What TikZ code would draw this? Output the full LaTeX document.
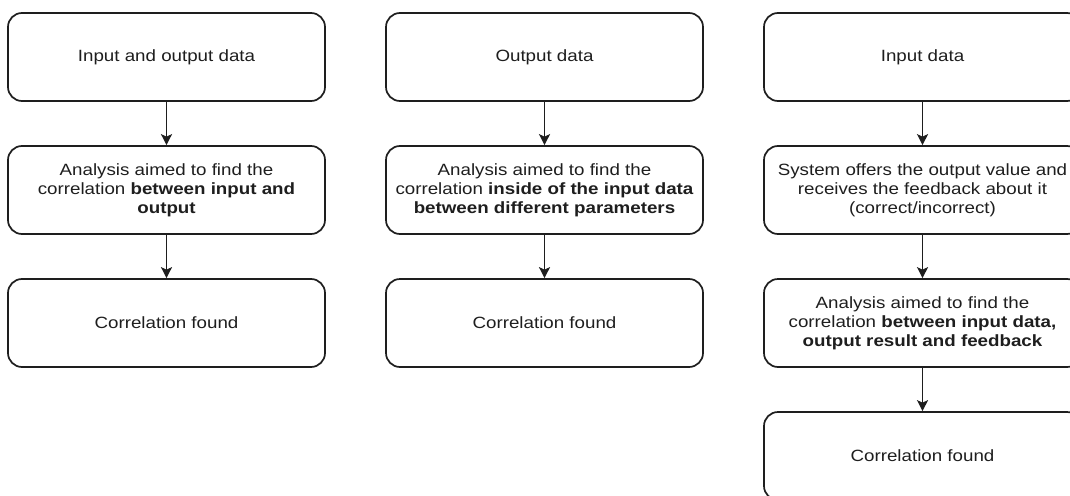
\documentclass[tikz,border=0pt]{standalone}
\usepackage{fontspec}
\setmainfont{Liberation Sans}[FakeStretch=1.15]
\usetikzlibrary{arrows.meta}
\definecolor{ink}{HTML}{1E1E1E}
\tikzset{
  flowbox/.style={draw=ink, line width=1.7pt, rounded corners=14pt,
    minimum width=317pt, minimum height=88pt, align=center,
    text=ink, font=\fontsize{16.3pt}{18.8pt}\selectfont},
  flowarrow/.style={draw=ink, line width=1.7pt,
    -{Stealth[length=11pt,width=11pt,inset=2.5pt]}}
}
\begin{document}
\begin{tikzpicture}[x=1pt,y=-1pt]
  \clip (0,0) rectangle (1070,495);
  \fill[white] (0,0) rectangle (1070,495);

  % supervised learning
  \node[flowbox] (a1) at (166.5,57)  {Input and output data};
  \node[flowbox] (a2) at (166.5,190) {Analysis aimed to find the\\correlation \textbf{between input and}\\\textbf{output}};
  \node[flowbox] (a3) at (166.5,323) {Correlation found};

  % unsupervised learning
  \node[flowbox] (b1) at (544.5,57)  {Output data};
  \node[flowbox] (b2) at (544.5,190) {Analysis aimed to find the\\correlation \textbf{inside of the input data}\\\textbf{between different parameters}};
  \node[flowbox] (b3) at (544.5,323) {Correlation found};

  % reinforcement learning
  \node[flowbox] (c1) at (922.5,57)  {Input data};
  \node[flowbox] (c2) at (922.5,190) {System offers the output value and\\receives the feedback about it\\(correct/incorrect)};
  \node[flowbox] (c3) at (922.5,323) {Analysis aimed to find the\\correlation \textbf{between input data,}\\\textbf{output result and feedback}};
  \node[flowbox] (c4) at (922.5,456) {Correlation found};

  \draw[flowarrow] (a1) -- (a2);
  \draw[flowarrow] (a2) -- (a3);
  \draw[flowarrow] (b1) -- (b2);
  \draw[flowarrow] (b2) -- (b3);
  \draw[flowarrow] (c1) -- (c2);
  \draw[flowarrow] (c2) -- (c3);
  \draw[flowarrow] (c3) -- (c4);
\end{tikzpicture}
\end{document}
